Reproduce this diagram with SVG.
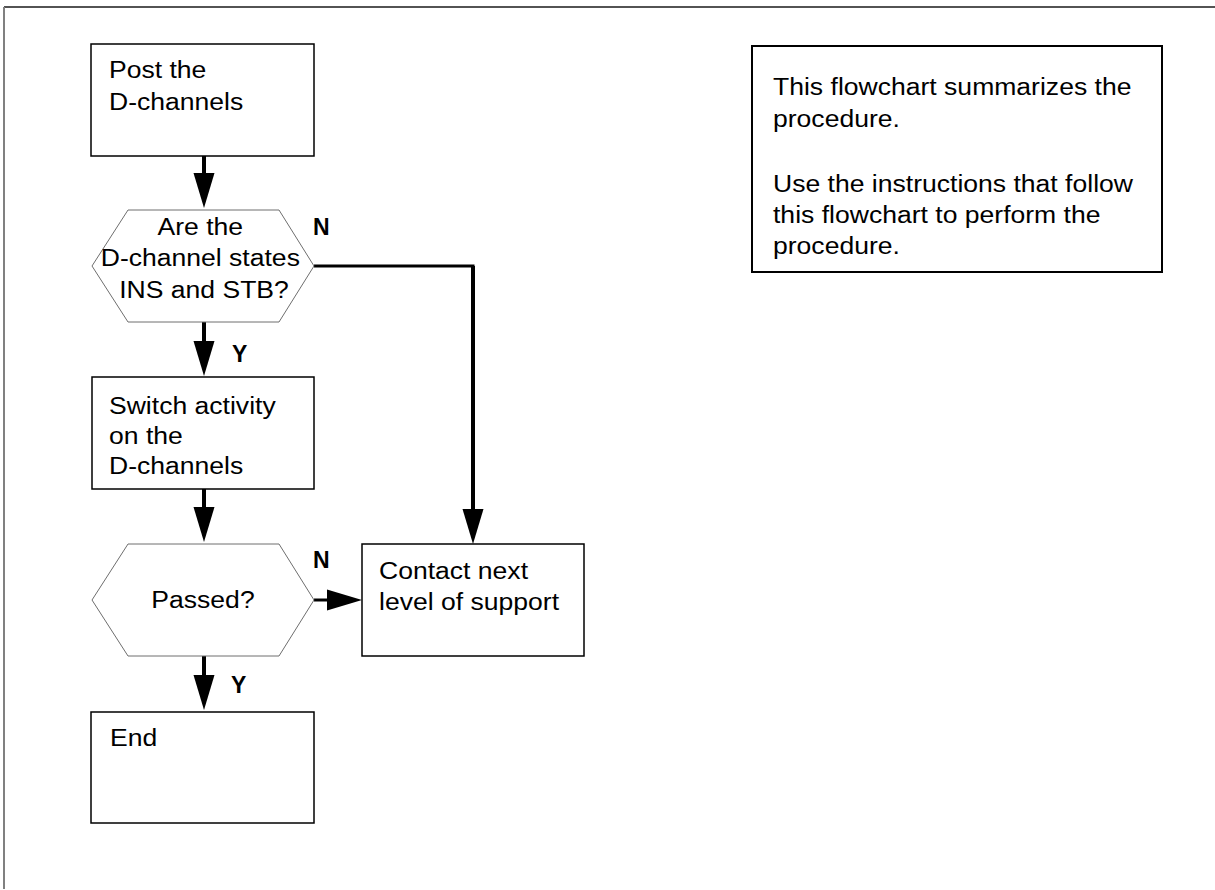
<svg xmlns="http://www.w3.org/2000/svg" xmlns:xlink="http://www.w3.org/1999/xlink" width="1215" height="890" viewBox="0 0 1215 890">
  <style>
    .t { font-family: "Liberation Sans", Arial, Helvetica, sans-serif; font-size: 23.5px; fill: #000; }
    .lbl { font-family: "Liberation Sans", Arial, Helvetica, sans-serif; font-size: 23px; font-weight: bold; fill: #000; }
    .box { fill: #fff; stroke: #000; stroke-width: 1.5; }
    .info { fill: #fff; stroke: #000; stroke-width: 2; }
    .hex { fill: #fff; stroke: #6e6e6e; stroke-width: 1; }
    .wire { fill: none; stroke: #000; stroke-linejoin: miter; }
    .v { stroke-width: 4; }
    .h { stroke-width: 3; }
    .head { fill: #000; }
  </style>
  <defs>
    <!-- arrowhead pointing down, tip at the origin -->
    <path id="ahd" class="head" d="M-10.5,-35 L10.5,-35 L0,0 Z"/>
  </defs>

  <rect width="1215" height="890" fill="#fff"/>

  <!-- page frame -->
  <g id="frame">
    <line x1="4" y1="7" x2="1215" y2="7" stroke="#1a1a1a" stroke-width="1.5"/>
    <line x1="4" y1="7" x2="4" y2="889" stroke="#808080" stroke-width="2"/>
  </g>

  <!-- connectors -->
  <g id="connectors">
    <line class="wire v" x1="204" y1="156" x2="204" y2="176"/>
    <use xlink:href="#ahd" x="204" y="208"/>

    <line class="wire v" x1="204" y1="322" x2="204" y2="344"/>
    <use xlink:href="#ahd" x="204" y="376"/>

    <polyline class="wire h" points="314,266 473,266 473,512"/>
    <line class="wire v" x1="473" y1="266" x2="473" y2="512"/>
    <use xlink:href="#ahd" x="473" y="544"/>

    <line class="wire v" x1="204" y1="489" x2="204" y2="510"/>
    <use xlink:href="#ahd" x="204" y="542"/>

    <line class="wire h" x1="314" y1="600" x2="332" y2="600"/>
    <use xlink:href="#ahd" transform="translate(362,600) rotate(-90)"/>

    <line class="wire v" x1="204" y1="656" x2="204" y2="676"/>
    <use xlink:href="#ahd" x="204" y="710"/>

    <text class="lbl" x="313" y="235">N</text>
    <text class="lbl" x="232" y="362">Y</text>
    <text class="lbl" x="313" y="568">N</text>
    <text class="lbl" x="231" y="693">Y</text>
  </g>

  <g id="post">
    <rect class="box" x="91" y="44" width="223" height="112"/>
    <text class="t" transform="translate(109,78) scale(1.13,1)">
      <tspan x="0" y="0">Post the</tspan>
      <tspan x="0" y="32">D-channels</tspan>
    </text>
  </g>

  <g id="check-states">
    <polygon class="hex" points="128,210 279,210 314,266 279,322 128,322 92,266"/>
    <text class="t" text-anchor="middle" transform="translate(204,235) scale(1.13,1)">
      <tspan x="0" y="0">Are the</tspan>
      <tspan x="0" y="31.5">D-channel states</tspan>
      <tspan x="0" y="63">INS and STB?</tspan>
    </text>
  </g>

  <g id="switch">
    <rect class="box" x="92" y="377" width="222" height="112"/>
    <text class="t" transform="translate(109,414) scale(1.13,1)">
      <tspan x="0" y="0">Switch activity</tspan>
      <tspan x="0" y="30">on the</tspan>
      <tspan x="0" y="60">D-channels</tspan>
    </text>
  </g>

  <g id="passed">
    <polygon class="hex" points="128,544 279,544 314,600 279,656 128,656 92,600"/>
    <text class="t" text-anchor="middle" transform="translate(203,608) scale(1.13,1)">Passed?</text>
  </g>

  <g id="contact">
    <rect class="box" x="362" y="544" width="222" height="112"/>
    <text class="t" transform="translate(379,579) scale(1.13,1)">
      <tspan x="0" y="0">Contact next</tspan>
      <tspan x="0" y="31">level of support</tspan>
    </text>
  </g>

  <g id="end">
    <rect class="box" x="91" y="712" width="223" height="111"/>
    <text class="t" transform="translate(110,746) scale(1.13,1)">End</text>
  </g>

  <g id="note">
    <rect class="info" x="752" y="46" width="410" height="226"/>
    <text class="t" transform="translate(773,95) scale(1.13,1)">
      <tspan x="0" y="0">This flowchart summarizes the</tspan>
      <tspan x="0" y="32">procedure.</tspan>
      <tspan x="0" y="97">Use the instructions that follow</tspan>
      <tspan x="0" y="128">this flowchart to perform the</tspan>
      <tspan x="0" y="159">procedure.</tspan>
    </text>
  </g>
</svg>
